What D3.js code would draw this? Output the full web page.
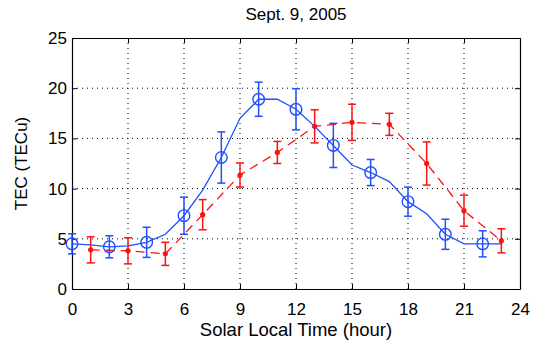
<!DOCTYPE html>
<html>
<head>
<meta charset="utf-8">
<script src="https://cdn.jsdelivr.net/npm/d3@7"></script>
<style>
body { margin: 0; background: #fff; }
text { font-family: "Liberation Sans", Arial, sans-serif; fill: #000; }
</style>
</head>
<body>
<svg width="536" height="343"></svg>
<script>
var screen = {width: 536, height: 343};
var margins = {top: 38, right: 16, bottom: 54, left: 72};

// blue model curve, hourly
var blueHours = [0,1,2,3,4,5,6,7,8,9,10,11,12,13,14,15,16,17,18,19,20,21,22,23];
var blueLine  = [4.5,4.4,4.2,4.3,4.65,5.45,7.3,9.85,13.1,17.0,18.9,18.9,17.9,16.2,14.3,12.35,11.6,10.7,8.7,7.5,5.45,4.5,4.5,4.5];

// blue markers with error bars (every 2 hours)
var blueMarkHours = [0,2,4,6,8,10,12,14,16,18,20,22];
var blueMarkVals  = [4.5,4.2,4.65,7.3,13.1,18.9,17.9,14.3,11.6,8.7,5.45,4.5];
var blueErr       = [1.0,1.1,1.5,1.85,2.55,1.7,2.05,2.2,1.3,1.45,1.5,1.3];

// red observations (odd hours)
var redHours = [1,3,5,7,9,11,13,15,17,19,21,23];
var redVals  = [3.9,3.8,3.5,7.4,11.35,13.6,16.2,16.6,16.4,12.5,7.8,4.8];
var redErr   = [1.3,1.3,1.15,1.5,1.2,1.1,1.65,1.8,1.1,2.15,1.55,1.2];

var xTicks = [0,3,6,9,12,15,18,21,24];
var yTicks = [0,5,10,15,20,25];

var width = screen.width - margins.left - margins.right;
var height = screen.height - margins.top - margins.bottom;

var svg = d3.select("svg");
var g = svg.append("g")
    .attr("transform", "translate(" + margins.left + "," + margins.top + ")");

var xScale = d3.scaleLinear().domain([0, 24]).range([0, width]);
var yScale = d3.scaleLinear().domain([0, 25]).range([height, 0]);

// grid
g.selectAll(".vgrid").data(xTicks.slice(1, -1)).enter().append("line")
    .attr("x1", d => xScale(d)).attr("x2", d => xScale(d))
    .attr("y1", 0).attr("y2", height)
    .attr("stroke", "#000").attr("stroke-width", 1)
    .attr("stroke-dasharray", "1,4");
g.selectAll(".hgrid").data(yTicks.slice(1, -1)).enter().append("line")
    .attr("y1", d => yScale(d)).attr("y2", d => yScale(d))
    .attr("x1", 0).attr("x2", width)
    .attr("stroke", "#000").attr("stroke-width", 1)
    .attr("stroke-dasharray", "1,4");

// axes, ticks inward
var xAxis = d3.axisBottom(xScale).tickValues(xTicks).tickSizeInner(-5).tickSizeOuter(0).tickPadding(14);
var yAxis = d3.axisLeft(yScale).tickValues(yTicks).tickSizeInner(-5).tickSizeOuter(0).tickPadding(5);
var xTop = d3.axisTop(xScale).tickValues(xTicks).tickSizeInner(-5).tickSizeOuter(0).tickFormat("");
var yRight = d3.axisRight(yScale).tickValues(yTicks).tickSizeInner(-5).tickSizeOuter(0).tickFormat("");

g.append("g").attr("transform", "translate(0," + height + ")").call(xAxis);
g.append("g").call(yAxis);
g.append("g").call(xTop);
g.append("g").attr("transform", "translate(" + width + ",0)").call(yRight);

g.selectAll(".domain").attr("stroke", "#000").attr("stroke-width", 1.2);
g.selectAll(".tick line").attr("stroke", "#000");
g.selectAll(".tick text").style("font-size", "17px").style("font-family", "Liberation Sans, Arial, sans-serif");

var blue = "#1f4fff";
var red = "#ff1010";

// red dashed line
var lineGen = d3.line().x(d => xScale(d[0])).y(d => yScale(d[1]));
g.append("path")
    .datum(redHours.map((h, i) => [h, redVals[i]]))
    .attr("d", lineGen)
    .attr("fill", "none").attr("stroke", red).attr("stroke-width", 1.3)
    .attr("stroke-dasharray", "9,6");

// blue line
g.append("path")
    .datum(blueHours.map((h, i) => [h, blueLine[i]]))
    .attr("d", lineGen)
    .attr("fill", "none").attr("stroke", blue).attr("stroke-width", 1.3);

// error bars
var drawErr = function(hours, vals, errs, color, cap) {
    var eg = g.append("g").attr("stroke", color).attr("stroke-width", 1.5);
    hours.forEach(function(h, i) {
        var x = xScale(h), y1 = yScale(vals[i] + errs[i]), y2 = yScale(vals[i] - errs[i]);
        eg.append("line").attr("x1", x).attr("x2", x).attr("y1", y1).attr("y2", y2);
        eg.append("line").attr("x1", x - cap).attr("x2", x + cap).attr("y1", y1).attr("y2", y1);
        eg.append("line").attr("x1", x - cap).attr("x2", x + cap).attr("y1", y2).attr("y2", y2);
    });
};
drawErr(blueMarkHours, blueMarkVals, blueErr, blue, 4);
drawErr(redHours, redVals, redErr, red, 4);

// markers
g.selectAll(".bm").data(blueMarkHours).enter().append("circle")
    .attr("cx", d => xScale(d))
    .attr("cy", (d, i) => yScale(blueMarkVals[i]))
    .attr("r", 5.8)
    .attr("fill", "none").attr("stroke", blue).attr("stroke-width", 1.4);
g.selectAll(".rm").data(redHours).enter().append("circle")
    .attr("cx", d => xScale(d))
    .attr("cy", (d, i) => yScale(redVals[i]))
    .attr("r", 2.6)
    .attr("fill", red);

// labels
svg.append("text")
    .attr("x", margins.left + width / 2).attr("y", 20)
    .attr("text-anchor", "middle").style("font-size", "17px")
    .text("Sept. 9, 2005");
svg.append("text")
    .attr("x", margins.left + width / 2).attr("y", 336)
    .attr("text-anchor", "middle").style("font-size", "18.5px")
    .text("Solar Local Time (hour)");
svg.append("text")
    .attr("transform", "translate(27," + (margins.top + height / 2) + ") rotate(-90)")
    .attr("text-anchor", "middle").style("font-size", "17px")
    .text("TEC (TECu)");
</script>
</body>
</html>
